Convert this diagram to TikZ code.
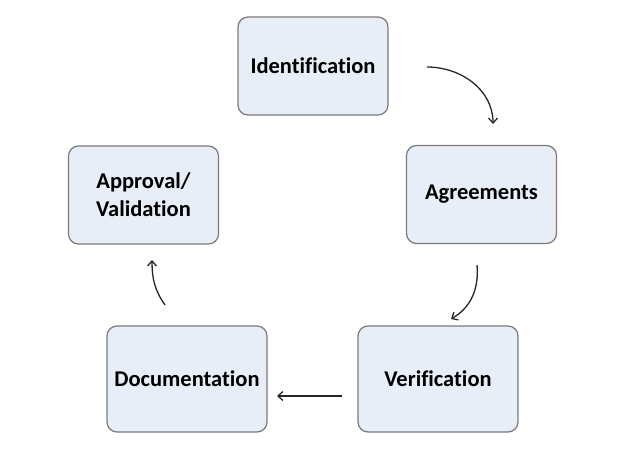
\documentclass[tikz,border=0pt]{standalone}
\usepackage{fontspec}
\setmainfont{Carlito}[Ligatures=NoCommon]
\usetikzlibrary{arrows.meta}
\definecolor{boxfill}{HTML}{E8EEF8}
\definecolor{boxline}{HTML}{7A7A7A}
\tikzset{
  stepbox/.style={draw=boxline, line width=1.2pt, fill=boxfill, rounded corners=10pt,
    minimum width=150pt, minimum height=98pt, align=center, font=\bfseries\fontsize{22.5}{28}\selectfont, inner sep=0pt},
  arr/.style={draw=black!85, line width=1.3pt, -{Straight Barb[length=5pt,width=9pt]}}
}
\begin{document}
\begin{tikzpicture}[x=1pt,y=-1pt]
\useasboundingbox (0,0) rectangle (628,455);
\node[stepbox] (ident) at (313,66) {Identification};
\node[stepbox] (agree) at (481.5,194.5) {Agreements};
\node[stepbox] (appr) at (143.5,195) {Approval/\\Validation};
\node[stepbox, minimum width=160pt, minimum height=106pt] (doc) at (187,379) {Documentation};
\node[stepbox, minimum width=160pt, minimum height=106pt] (veri) at (438,379) {Verification};
\coordinate (a1) at (427,67);
\coordinate (a2) at (493,124);
\coordinate (b1) at (477,265);
\coordinate (b2) at (451,319);
\coordinate (c1) at (342,396);
\coordinate (c2) at (277,396);
\coordinate (d1) at (165,305);
\coordinate (d2) at (152,260);
\draw[arr] (a1) to[out=0,in=90,looseness=1.0] (a2);
\draw[arr] (b1) to[out=-85,in=30] (b2);
\draw[arr] (c1) -- (c2);
\draw[arr] (d1) to[out=125,in=-90] (d2);
\end{tikzpicture}
\end{document}
